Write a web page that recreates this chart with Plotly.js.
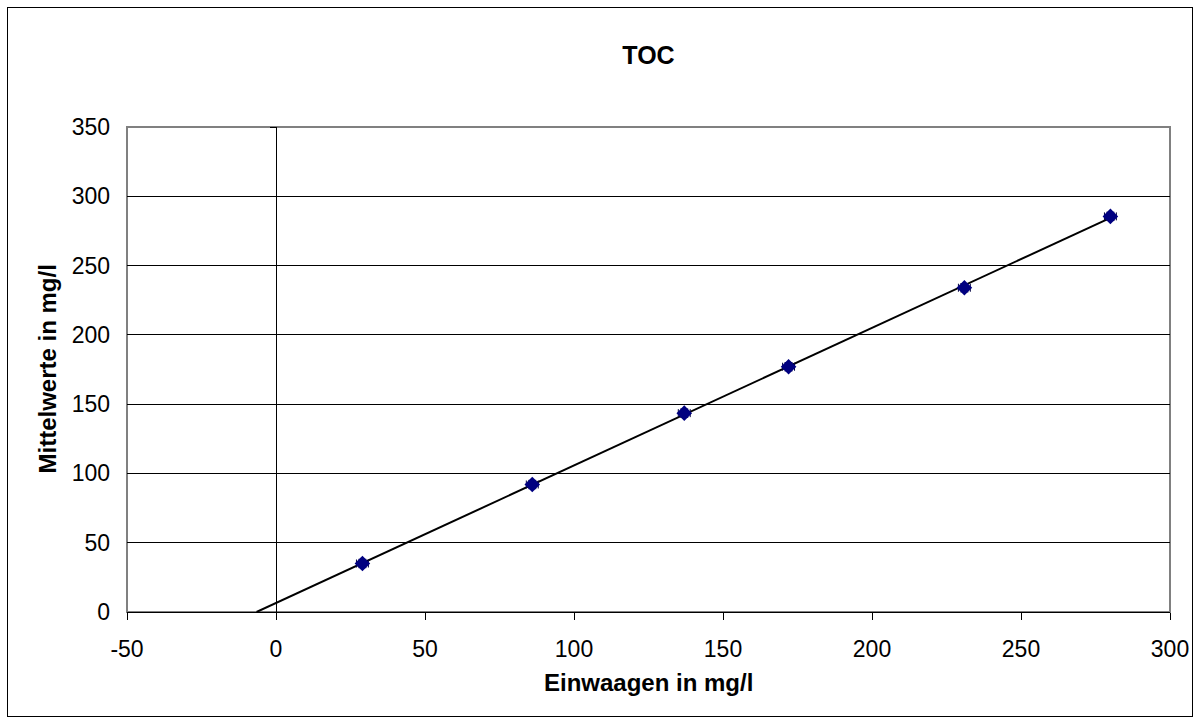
<!DOCTYPE html>
<html>
<head>
<meta charset="utf-8">
<script src="https://cdn.plot.ly/plotly-3.0.1.min.js"></script>
<style>
  html, body { margin: 0; padding: 0; background: #fff; }
  #wrap { position: relative; width: 1201px; height: 725px; }
  #chart { width: 1201px; height: 725px; }
  #frame { position: absolute; left: 7px; top: 7px; width: 1186px; height: 710px; border: 1px solid #000; pointer-events: none; box-sizing: border-box; }
</style>
</head>
<body>
<div id="wrap"><div id="chart"></div><div id="frame"></div></div>
<script>
// Data
const einwaagen = [29, 86, 137, 172, 231, 280];          // x, mg/l
const mittelwerte = [35, 92, 143.5, 177, 234, 285.5];   // y, mg/l
const errY = [3, 3, 3, 3, 3, 3];
const errX = [2, 2, 2, 2, 2, 2];
const xTicks = [-50, 0, 50, 100, 150, 200, 250, 300];
const yTicks = [0, 50, 100, 150, 200, 250, 300, 350];
const chartTitle = 'TOC';
const xTitle = 'Einwaagen in mg/l';
const yTitle = 'Mittelwerte in mg/l';

// Linear regression (trend line)
const n = einwaagen.length;
const mx = einwaagen.reduce((a, b) => a + b, 0) / n;
const my = mittelwerte.reduce((a, b) => a + b, 0) / n;
let sxy = 0, sxx = 0;
for (let i = 0; i < n; i++) { sxy += (einwaagen[i] - mx) * (mittelwerte[i] - my); sxx += (einwaagen[i] - mx) ** 2; }
const slope = sxy / sxx;
const icpt = my - slope * mx;
const xStart = -icpt / slope;
const xEnd = Math.max(...einwaagen);
const trendX = [xStart, xEnd];
const trendY = trendX.map(v => slope * v + icpt);

const font = 'Liberation Sans, Arial, sans-serif';

const traces = [
  {
    x: trendX, y: trendY, type: 'scatter', mode: 'lines',
    line: { color: '#000', width: 2 }, hoverinfo: 'skip', showlegend: false
  },
  {
    x: einwaagen, y: mittelwerte, type: 'scatter', mode: 'markers',
    marker: { symbol: 'diamond', size: 12, color: '#000080' },
    error_y: { type: 'data', array: errY, visible: true, color: '#000040', thickness: 1, width: 4 },
    error_x: { type: 'data', array: errX, visible: true, color: '#000040', thickness: 1, width: 4 },
    showlegend: false
  },
  // invisible trace to activate the secondary y axis (the line at x = 0)
  { x: [0], y: [0], yaxis: 'y2', type: 'scatter', mode: 'markers', marker: { opacity: 0 }, hoverinfo: 'skip', showlegend: false }
];

const layout = {
  width: 1201, height: 725,
  margin: { l: 127, r: 31, t: 127, b: 113 },
  paper_bgcolor: '#fff', plot_bgcolor: '#fff',
  font: { family: font, size: 23, color: '#000' },
  title: { text: '<b>' + chartTitle + '</b>', font: { family: font, size: 25, color: '#000' }, x: 0.5, xref: 'paper', y: 1 - 55 / 725, yanchor: 'middle' },
  xaxis: {
    range: [-50, 300], tickvals: xTicks, ticktext: xTicks.map(String),
    showgrid: false, zeroline: false,
    showline: true, linecolor: '#000', linewidth: 1, mirror: false,
    ticks: 'outside', ticklen: 7, tickcolor: '#000', ticklabelstandoff: 9,
    tickfont: { family: font, size: 23 }
  },
  yaxis: {
    range: [0, 350], tickvals: yTicks, ticktext: yTicks.map(String),
    showgrid: true, gridcolor: '#000', gridwidth: 1,
    zeroline: false, showline: false, ticks: '', ticklabelstandoff: 16,
    tickfont: { family: font, size: 23 }
  },
  yaxis2: {
    range: [0, 350], tickvals: yTicks, overlaying: 'y', anchor: 'free',
    position: (0 - (-50)) / 350, side: 'left',
    showticklabels: false, showgrid: false, zeroline: false,
    showline: true, linecolor: '#000', linewidth: 1,
    ticks: 'outside', ticklen: 6, tickcolor: '#000'
  },
  annotations: [
    { text: '<b>' + xTitle + '</b>', xref: 'paper', yref: 'paper', x: 0.5, y: (612 - 682) / 485,
      xanchor: 'center', yanchor: 'middle', showarrow: false, font: { family: font, size: 24, color: '#000' } },
    { text: '<b>' + yTitle + '</b>', xref: 'paper', yref: 'paper', x: (47 - 127) / 1043, y: 0.5,
      xanchor: 'center', yanchor: 'middle', textangle: -90, showarrow: false, font: { family: font, size: 24, color: '#000' } }
  ],
  shapes: [
    { type: 'rect', xref: 'paper', yref: 'paper', x0: 0, x1: 1, y0: 0, y1: 1, line: { color: '#808080', width: 2 }, layer: 'below' }
  ]
};

Plotly.newPlot('chart', traces, layout, { displayModeBar: false, staticPlot: true });
</script>
</body>
</html>
